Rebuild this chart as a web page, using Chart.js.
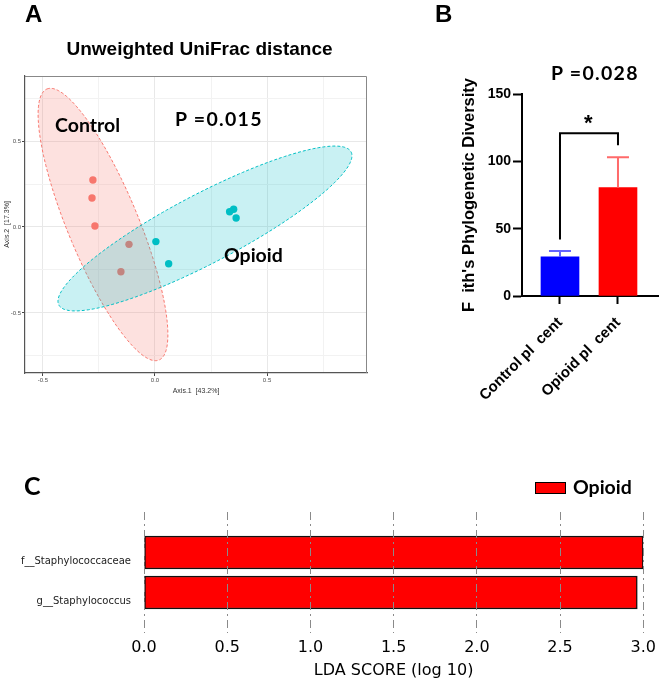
<!DOCTYPE html>
<html><head><meta charset="utf-8">
<script src="https://cdn.jsdelivr.net/npm/chart.js@4.4.1/dist/chart.umd.min.js"></script>
<style>
html,body{margin:0;padding:0;background:#fff;}
#wrap{position:relative;width:661px;height:680px;overflow:hidden;background:#fff;}
canvas{position:absolute;}
.t{position:absolute;white-space:nowrap;line-height:1;color:#000;}
.ar{font-family:'Liberation Sans',Arial,sans-serif;font-weight:bold;}
.la{font-family:Lato,'Open Sans',sans-serif;font-weight:bold;}
.ls{letter-spacing:1.3px;}
</style></head><body>
<div id="wrap">
<canvas id="cA" width="380" height="395" style="left:0;top:0;width:380px;height:395px"></canvas>
<canvas id="cB" width="221" height="410" style="left:440px;top:0;width:221px;height:410px"></canvas>
<canvas id="cC" width="661" height="210" style="left:0;top:470px;width:661px;height:210px"></canvas>

<div class="t ar" style="left:25px;top:2px;font-size:24px">A</div>
<div class="t ar" style="left:0;width:399px;text-align:center;top:39px;font-size:19px">Unweighted UniFrac distance</div>
<div class="t la" style="left:55px;top:115px;font-size:19.5px">Control</div>
<div class="t la ls" style="left:175px;top:109px;font-size:19.5px">P =0.015</div>
<div class="t la" style="left:224px;top:245px;font-size:19.5px">Opioid</div>

<div class="t ar" style="left:435px;top:2px;font-size:24px">B</div>
<div class="t la ls" style="left:551px;top:63px;font-size:19.5px">P =0.028</div>
<div class="t ar" style="left:584px;top:112px;font-size:22px">*</div>

<div class="t la" style="left:24px;top:473px;font-size:25px">C</div>
<div style="position:absolute;left:535px;top:482px;width:31px;height:12px;background:#FF0000;border:1.5px solid #000;box-sizing:border-box"></div>
<div class="t la" style="left:573px;top:477px;font-size:19.5px">Opioid</div>
</div>
<script>
// ---------- Panel A: PCoA (unweighted UniFrac) ----------
const pcoaGroups = ['Control', 'Opioid'];
const controlAxis1 = [-0.277, -0.281, -0.268, -0.116, -0.152];
const controlAxis2 = [0.273, 0.169, 0.006, -0.101, -0.260];
const opioidAxis1 = [0.004, 0.061, 0.333, 0.351, 0.362];
const opioidAxis2 = [-0.085, -0.214, 0.089, 0.103, 0.052];
// confidence ellipses: [centerX, centerY, halfAxis1X, halfAxis1Y, halfAxis2X, halfAxis2Y] in data units
const controlEllipse = [-0.232, 0.0145, -0.250, 0.788, 0.146, 0.079];
const opioidEllipse = [0.223, -0.0087, 0.652, 0.445, 0.071, -0.178];
const axisTicksA1 = [-0.5, -0.25, 0, 0.25, 0.5, 0.75];
const axisTicksA2 = [-0.75, -0.5, -0.25, 0, 0.25, 0.5, 0.75];

// ---------- Panel B: Faith's PD ----------
const groupNames = ['Control pl  cent', 'Opioid pl  cent'];
const groupMeans = [29, 80.5];
const groupErr = [4.5, 22.5];
const yTicksB = [0, 50, 100, 150];
const bracketTop = 120.8;
const bracketEnds = [42, 112];

// ---------- Panel C: LEfSe ----------
const ldaFeatures = ['f__Staphylococcaceae', 'g__Staphylococcus'];
const ldaScores = [3.0, 2.964];
const ldaTicks = [0, 0.5, 1.0, 1.5, 2.0, 2.5, 3.0];

const isMajor = v => Math.abs(v * 2 - Math.round(v * 2)) < 1e-9;

const colA = ['#F8766D', '#00BFC4'];
const fillA = ['rgba(248,118,109,0.22)', 'rgba(0,191,196,0.21)'];

const ellipsePlugin = {
  id: 'ellipses',
  afterDatasetsDraw(chart) {
    const {ctx, scales: {x, y}} = chart;
    [controlEllipse, opioidEllipse].forEach((e, gi) => {
      ctx.save();
      ctx.beginPath();
      const N = 240;
      for (let k = 0; k <= N; k++) {
        const t = k / N * 2 * Math.PI;
        const dx = e[0] + e[2] * Math.cos(t) + e[4] * Math.sin(t);
        const dy = e[1] + e[3] * Math.cos(t) + e[5] * Math.sin(t);
        const px = x.getPixelForValue(dx), py = y.getPixelForValue(dy);
        if (k === 0) ctx.moveTo(px, py); else ctx.lineTo(px, py);
      }
      ctx.closePath();
      ctx.fillStyle = fillA[gi];
      ctx.fill();
      ctx.setLineDash([3, 2]);
      ctx.lineWidth = 1;
      ctx.strokeStyle = colA[gi];
      ctx.stroke();
      ctx.restore();
    });
    const a = chart.chartArea;
    ctx.save();
    ctx.strokeStyle = '#888';
    ctx.lineWidth = 1;
    ctx.beginPath();
    ctx.moveTo(a.left, a.top + 0.5); ctx.lineTo(a.right - 0.5, a.top + 0.5); ctx.lineTo(a.right - 0.5, a.bottom);
    ctx.stroke();
    ctx.restore();
  }
};

new Chart(document.getElementById('cA'), {
  type: 'scatter',
  data: {
    datasets: [
      {label: pcoaGroups[0], data: controlAxis1.map((v, i) => ({x: v, y: controlAxis2[i]})), backgroundColor: colA[0], pointRadius: 3.7, pointBorderWidth: 0},
      {label: pcoaGroups[1], data: opioidAxis1.map((v, i) => ({x: v, y: opioidAxis2[i]})), backgroundColor: colA[1], pointRadius: 3.7, pointBorderWidth: 0}
    ]
  },
  options: {
    responsive: false, animation: false, devicePixelRatio: 1,
    layout: {padding: {left: 0, top: 76, right: 13, bottom: 0}},
    plugins: {legend: {display: false}, tooltip: {enabled: false}},
    scales: {
      x: {
        type: 'linear', min: -0.58, max: 0.946,
        afterBuildTicks: s => { s.ticks = axisTicksA1.map(v => ({value: v})); },
        afterFit: s => { s.height = 22; },
        ticks: {font: {size: 6, family: 'Liberation Sans'}, color: '#4d4d4d', padding: 1, maxRotation: 0, autoSkip: false,
          callback: v => isMajor(v) ? v.toFixed(1) : ''},
        grid: {color: c => (c.tick && isMajor(c.tick.value)) ? '#e8e8e8' : '#f2f2f2', lineWidth: 1,
          tickColor: c => (c.tick && isMajor(c.tick.value)) ? '#444' : 'rgba(0,0,0,0)', tickLength: 3},
        border: {display: true, color: '#555', width: 1.2},
        title: {display: true, text: 'Axis.1  [43.2%]', font: {size: 7, family: 'Liberation Sans'}, color: '#333', padding: {top: 1, bottom: 0}}
      },
      y: {
        type: 'linear', min: -0.849, max: 0.878,
        afterBuildTicks: s => { s.ticks = axisTicksA2.map(v => ({value: v})); },
        afterFit: s => { s.width = 25; },
        ticks: {font: {size: 6, family: 'Liberation Sans'}, color: '#4d4d4d', padding: 1, autoSkip: false,
          callback: v => isMajor(v) ? v.toFixed(1) : ''},
        grid: {color: c => (c.tick && isMajor(c.tick.value)) ? '#e8e8e8' : '#f2f2f2', lineWidth: 1,
          tickColor: c => (c.tick && isMajor(c.tick.value)) ? '#444' : 'rgba(0,0,0,0)', tickLength: 3},
        border: {display: true, color: '#555', width: 1.2},
        title: {display: true, text: 'Axis.2  [17.3%]', font: {size: 7, family: 'Liberation Sans'}, color: '#333', padding: {top: 3, bottom: 0}}
      }
    }
  },
  plugins: [ellipsePlugin]
});

// ---------- Panel B ----------
const errColors = ['#6464ff', '#ff6a6a'];
const errPlugin = {
  id: 'errs',
  afterDatasetsDraw(chart) {
    const {ctx, scales: {x, y}} = chart;
    ctx.save();
    ctx.lineWidth = 2;
    groupMeans.forEach((m, i) => {
      const px = x.getPixelForValue(i + 1);
      const y0 = y.getPixelForValue(m), y1 = y.getPixelForValue(m + groupErr[i]);
      ctx.strokeStyle = errColors[i];
      ctx.beginPath();
      ctx.moveTo(px, y0); ctx.lineTo(px, y1);
      ctx.moveTo(px - 11, y1); ctx.lineTo(px + 11, y1);
      ctx.stroke();
    });
    const xl = x.getPixelForValue(1), xr = x.getPixelForValue(2);
    ctx.strokeStyle = '#000';
    ctx.beginPath();
    ctx.moveTo(xl, y.getPixelForValue(bracketEnds[0]));
    ctx.lineTo(xl, y.getPixelForValue(bracketTop));
    ctx.lineTo(xr, y.getPixelForValue(bracketTop));
    ctx.lineTo(xr, y.getPixelForValue(bracketEnds[1]));
    ctx.stroke();
    ctx.restore();
  }
};

new Chart(document.getElementById('cB'), {
  type: 'bar',
  data: {datasets: [{data: groupMeans.map((m, i) => ({x: i + 1, y: m})), backgroundColor: ['#0000FF', '#FF0000'], barThickness: 38, borderWidth: 0}]},
  options: {
    responsive: false, animation: false, devicePixelRatio: 1,
    layout: {padding: {left: 20, top: 94, right: 3, bottom: 0}},
    plugins: {legend: {display: false}, tooltip: {enabled: false}},
    scales: {
      x: {
        type: 'linear', min: 0.345, max: 2.69, offset: false,
        afterBuildTicks: s => { s.ticks = groupNames.map((n, i) => ({value: i + 1})); },
        afterFit: s => { s.height = 114; },
        ticks: {autoSkip: false, maxRotation: 45, minRotation: 45, font: {size: 15, weight: 'bold', family: 'Liberation Sans'}, color: '#000', padding: 10,
          callback: v => groupNames[Math.round(v) - 1] || ''},
        grid: {display: true, offset: false, drawOnChartArea: false, drawTicks: true, tickLength: 8, tickColor: '#000', tickWidth: 2},
        border: {display: true, color: '#000', width: 2}
      },
      y: {
        type: 'linear', min: 0, max: 150,
        afterBuildTicks: s => { s.ticks = yTicksB.map(v => ({value: v})); },
        afterFit: s => { s.width = 62; },
        ticks: {font: {size: 14, weight: 'bold', family: 'Liberation Sans'}, color: '#000', padding: 2},
        grid: {drawOnChartArea: false, tickLength: 9, tickColor: '#000', tickWidth: 2},
        border: {display: true, color: '#000', width: 2},
        title: {display: true, text: "F  ith's Phylogenetic Diversity", font: {size: 16.5, weight: 'bold', family: 'Liberation Sans'}, color: '#000', padding: {top: 0, bottom: 0}}
      }
    }
  },
  plugins: [errPlugin]
});

// ---------- Panel C ----------
new Chart(document.getElementById('cC'), {
  type: 'bar',
  data: {datasets: [{label: 'Opioid', data: ldaScores.map((s, i) => ({x: s, y: ldaFeatures.length - 1 - i})),
    backgroundColor: '#FF0000', borderColor: '#111', borderWidth: 1.5, borderSkipped: false, barThickness: 33}]},
  options: {
    indexAxis: 'y', responsive: false, animation: false, devicePixelRatio: 1,
    layout: {padding: {left: 0, top: 42, right: 13, bottom: 0}},
    plugins: {legend: {display: false}, tooltip: {enabled: false}},
    scales: {
      x: {
        type: 'linear', min: 0, max: 3,
        afterBuildTicks: s => { s.ticks = ldaTicks.map(v => ({value: v})); },
        afterFit: s => { s.height = 47; },
        ticks: {font: {size: 16, family: 'DejaVu Sans'}, color: '#000', padding: 5, maxRotation: 0, autoSkip: false, callback: v => v.toFixed(1)},
        grid: {color: '#8a8a8a', lineWidth: 1, drawTicks: false, z: 1},
        border: {display: false, dash: [8, 4, 2, 4]},
        title: {display: true, text: 'LDA SCORE (log 10)', font: {size: 16, family: 'DejaVu Sans'}, color: '#000', padding: {top: 0, bottom: 0}}
      },
      y: {
        type: 'linear', min: -1.01, max: 2.01, offset: false,
        afterBuildTicks: s => { s.ticks = ldaFeatures.map((f, i) => ({value: ldaFeatures.length - 1 - i})); },
        afterFit: s => { s.width = 144; },
        ticks: {font: {size: 10, family: 'DejaVu Sans'}, color: '#222', padding: 13, labelOffset: 9, autoSkip: false,
          callback: v => ldaFeatures[ldaFeatures.length - 1 - Math.round(v)] || ''},
        grid: {display: false, drawTicks: false, offset: false},
        border: {display: false}
      }
    }
  }
});
</script>
</body></html>
